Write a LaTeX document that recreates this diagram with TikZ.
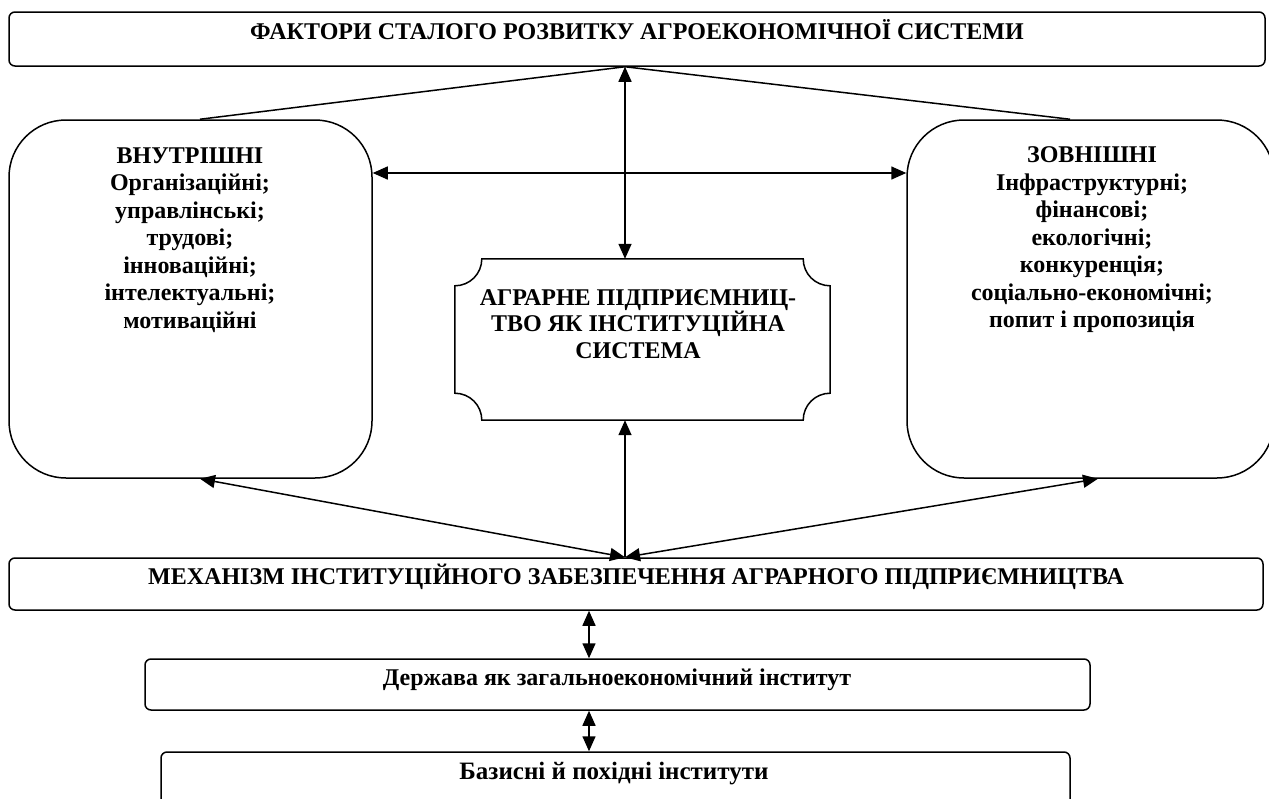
\documentclass[tikz,border=0pt]{standalone}
\usepackage{fontspec}
\setmainfont{Liberation Serif}
\usetikzlibrary{arrows.meta,calc}
\tikzset{
  box/.style={draw, line width=1.5pt, rectangle, rounded corners=6pt, inner sep=0pt},
  bigbox/.style={box, rounded corners=57pt},
  conn/.style={line width=1.5pt},
  tip/.tip={Triangle[length=15pt,width=13pt]},
  dbl/.style={conn, tip-tip},
  one/.style={conn, -tip},
  txt/.style={inner sep=0pt, align=center, font=\bfseries},
}
\begin{document}
\begin{tikzpicture}[x=1pt,y=-1pt]
\useasboundingbox (0,0) rectangle (1269,798);
\clip (0,0) rectangle (1269,798);
% boxes
\node[box, minimum width=1256pt, minimum height=54pt] (top) at (637,39) {};
\node[bigbox, minimum width=363pt, minimum height=358pt] (lb) at (190.5,299) {};
\node[bigbox, minimum width=367pt, minimum height=358pt] (rb) at (1090.5,299) {};
\node[inner sep=0pt, minimum width=375pt, minimum height=161pt] (ctr) at (642.5,339.5) {};
\draw[line width=1.5pt]
  ($(ctr.north west)+(27,0)$) -- ($(ctr.north east)+(-27,0)$)
  .. controls ($(ctr.north east)+(-27,15)$) and ($(ctr.north east)+(-15,27)$) .. ($(ctr.north east)+(0,27)$)
  -- ($(ctr.south east)+(0,-27)$)
  .. controls ($(ctr.south east)+(-15,-27)$) and ($(ctr.south east)+(-27,-15)$) .. ($(ctr.south east)+(-27,0)$)
  -- ($(ctr.south west)+(27,0)$)
  .. controls ($(ctr.south west)+(27,-15)$) and ($(ctr.south west)+(15,-27)$) .. ($(ctr.south west)+(0,-27)$)
  -- ($(ctr.north west)+(0,27)$)
  .. controls ($(ctr.north west)+(15,27)$) and ($(ctr.north west)+(27,15)$) .. ($(ctr.north west)+(27,0)$) -- cycle;
\node[box, minimum width=1254pt, minimum height=52pt] (mech) at (636,584) {};
\node[box, minimum width=945pt, minimum height=51pt] (st) at (617.5,684.5) {};
\node[box, minimum width=909pt, minimum height=56pt] (bas) at (615.5,780) {};
% texts
\node[txt, font=\bfseries\fontsize{24}{26}\selectfont, anchor=base] (topt) at (637,39) {ФАКТОРИ СТАЛОГО РОЗВИТКУ АГРОЕКОНОМІЧНОЇ СИСТЕМИ};
\node[txt, font=\bfseries\fontsize{24}{27.5}\selectfont] (lbt) at (190,240) {ВНУТРІШНІ\\Організаційні;\\управлінські;\\трудові;\\інноваційні;\\інтелектуальні;\\мотиваційні};
\node[txt, font=\bfseries\fontsize{24}{27.5}\selectfont] (rbt) at (1092,240) {ЗОВНІШНІ\\Інфраструктурні;\\фінансові;\\екологічні;\\конкуренція;\\соціально-економічні;\\попит і пропозиція};
\node[txt, font=\bfseries\fontsize{24}{26.5}\selectfont] (ctrt) at (638,324) {АГРАРНЕ ПІДПРИЄМНИЦ-\\ТВО ЯК ІНСТИТУЦІЙНА\\СИСТЕМА};
\node[txt, font=\bfseries\fontsize{24}{26}\selectfont, anchor=base] (mecht) at (636,584) {МЕХАНІЗМ ІНСТИТУЦІЙНОГО ЗАБЕЗПЕЧЕННЯ АГРАРНОГО ПІДПРИЄМНИЦТВА};
\node[txt, font=\bfseries\fontsize{24}{26}\selectfont, anchor=base] (stt) at (617,685) {Держава як загальноекономічний інститут};
\node[txt, font=\bfseries\fontsize{25}{27}\selectfont, anchor=base] (bast) at (614,779) {Базисні й похідні інститути};
% helper coordinates
\coordinate (ax) at (625,0);
\coordinate (lx) at (200,0);
\coordinate (rx) at (1070,0);
\coordinate (lbx) at (200,0);
\coordinate (rbx) at (1098,0);
\coordinate (hy) at (0,173);
\coordinate (bx) at (589,0);
% connectors
\draw[conn] (lb.north -| lx) -- (top.south -| ax);
\draw[conn] (rb.north -| rx) -- (top.south -| ax);
\draw[dbl] (top.south -| ax) -- (ctr.north -| ax);
\draw[dbl] (lb.east |- hy) -- (rb.west |- hy);
\draw[one] (mech.north -| ax) -- (ctr.south -| ax);
\draw[dbl] (mech.north -| ax) -- (lb.south -| lbx);
\draw[dbl] (mech.north -| ax) -- (rb.south -| rbx);
\draw[dbl] (mech.south -| bx) -- (st.north -| bx);
\draw[dbl] (st.south -| bx) -- (bas.north -| bx);
\end{tikzpicture}
\end{document}
